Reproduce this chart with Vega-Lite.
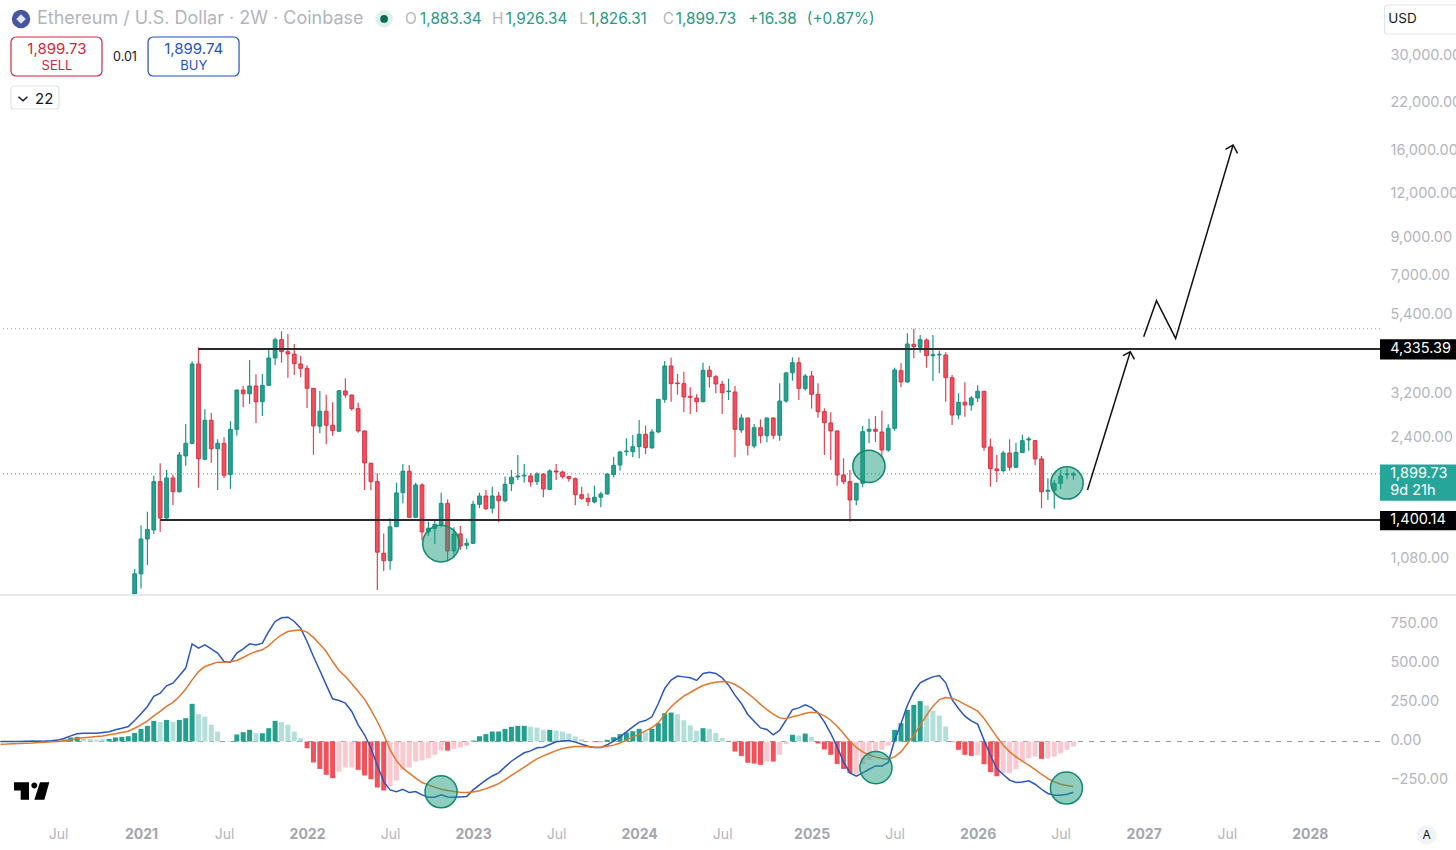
{
  "$schema": "https://vega.github.io/schema/vega-lite/v6.json",
  "width": 1380,
  "height": 820,
  "autosize": {"type": "none"},
  "padding": {"left": 0, "top": 0, "right": 76, "bottom": 30},
  "background": "white",
  "config": {
    "view": {"stroke": null},
    "text": {"font": "Inter"},
    "axis": {"labelFont": "Inter", "grid": false, "domain": false, "ticks": false}
  },
  "resolve": {"scale": {"y": "independent"}, "axis": {"y": "independent"}},
  "datasets": {
    "candles": [
      {"bar":12,"open":800,"high":1012,"low":760,"close":981},
      {"bar":13,"open":981,"high":1353,"low":890,"close":1235},
      {"bar":14,"open":1235,"high":1479,"low":1040,"close":1314},
      {"bar":15,"open":1311,"high":1877,"low":1277,"close":1804},
      {"bar":16,"open":1804,"high":2037,"low":1294,"close":1419},
      {"bar":17,"open":1419,"high":1949,"low":1410,"close":1849},
      {"bar":18,"open":1849,"high":1890,"low":1546,"close":1688},
      {"bar":19,"open":1688,"high":2195,"low":1680,"close":2152},
      {"bar":20,"open":2138,"high":2641,"low":2005,"close":2324},
      {"bar":21,"open":2324,"high":3997,"low":2310,"close":3926},
      {"bar":22,"open":3926,"high":4384,"low":1734,"close":2100},
      {"bar":23,"open":2092,"high":2910,"low":2078,"close":2706},
      {"bar":24,"open":2706,"high":2846,"low":2041,"close":2243},
      {"bar":25,"open":2243,"high":2387,"low":1707,"close":2324},
      {"bar":26,"open":2324,"high":2419,"low":1849,"close":1882},
      {"bar":27,"open":1890,"high":2694,"low":1719,"close":2550},
      {"bar":28,"open":2550,"high":3313,"low":2445,"close":3306},
      {"bar":29,"open":3306,"high":3395,"low":2949,"close":3226},
      {"bar":30,"open":3226,"high":4031,"low":3014,"close":3395},
      {"bar":31,"open":3395,"high":3668,"low":2659,"close":3060},
      {"bar":32,"open":3060,"high":3675,"low":2784,"close":3410},
      {"bar":33,"open":3410,"high":4355,"low":3395,"close":4085},
      {"bar":34,"open":4085,"high":4670,"low":3900,"close":4610},
      {"bar":35,"open":4610,"high":4875,"low":3960,"close":4258},
      {"bar":36,"open":4258,"high":4787,"low":3586,"close":4195},
      {"bar":37,"open":4195,"high":4481,"low":3651,"close":3934},
      {"bar":38,"open":3926,"high":4148,"low":3596,"close":3816},
      {"bar":39,"open":3816,"high":3892,"low":2935,"close":3343},
      {"bar":40,"open":3343,"high":3343,"low":2156,"close":2607},
      {"bar":41,"open":2602,"high":3284,"low":2484,"close":2872},
      {"bar":42,"open":2872,"high":3205,"low":2310,"close":2619},
      {"bar":43,"open":2619,"high":3048,"low":2445,"close":2527},
      {"bar":44,"open":2517,"high":3306,"low":2510,"close":3290},
      {"bar":45,"open":3284,"high":3572,"low":3142,"close":3199},
      {"bar":46,"open":3199,"high":3205,"low":2884,"close":2922},
      {"bar":47,"open":2922,"high":3040,"low":2494,"close":2522},
      {"bar":48,"open":2522,"high":2530,"low":1707,"close":2041},
      {"bar":49,"open":2037,"high":2045,"low":1704,"close":1804},
      {"bar":50,"open":1804,"high":1907,"low":882,"close":1132},
      {"bar":51,"open":1124,"high":1280,"low":1000,"close":1070},
      {"bar":52,"open":1070,"high":1416,"low":1007,"close":1338},
      {"bar":53,"open":1340,"high":1792,"low":1335,"close":1674},
      {"bar":54,"open":1677,"high":2028,"low":1563,"close":1932},
      {"bar":55,"open":1932,"high":2014,"low":1420,"close":1425},
      {"bar":56,"open":1425,"high":1792,"low":1420,"close":1765},
      {"bar":57,"open":1765,"high":1784,"low":1227,"close":1294},
      {"bar":58,"open":1294,"high":1385,"low":1260,"close":1326},
      {"bar":59,"open":1323,"high":1400,"low":1195,"close":1361},
      {"bar":60,"open":1361,"high":1677,"low":1335,"close":1563},
      {"bar":61,"open":1563,"high":1605,"low":1075,"close":1141},
      {"bar":62,"open":1141,"high":1335,"low":1088,"close":1277},
      {"bar":63,"open":1277,"high":1346,"low":1149,"close":1180},
      {"bar":64,"open":1185,"high":1238,"low":1154,"close":1200},
      {"bar":65,"open":1200,"high":1590,"low":1195,"close":1553},
      {"bar":66,"open":1553,"high":1677,"low":1513,"close":1641},
      {"bar":67,"open":1641,"high":1707,"low":1496,"close":1509},
      {"bar":68,"open":1513,"high":1745,"low":1464,"close":1641},
      {"bar":69,"open":1641,"high":1688,"low":1379,"close":1590},
      {"bar":70,"open":1590,"high":1865,"low":1574,"close":1773},
      {"bar":71,"open":1780,"high":1949,"low":1696,"close":1857},
      {"bar":72,"open":1861,"high":2152,"low":1824,"close":1873},
      {"bar":73,"open":1873,"high":2028,"low":1792,"close":1882},
      {"bar":74,"open":1873,"high":1907,"low":1745,"close":1800},
      {"bar":75,"open":1804,"high":1919,"low":1765,"close":1898},
      {"bar":76,"open":1898,"high":1907,"low":1627,"close":1719},
      {"bar":77,"open":1715,"high":1958,"low":1707,"close":1936},
      {"bar":78,"open":1936,"high":2028,"low":1824,"close":1923},
      {"bar":79,"open":1923,"high":1940,"low":1840,"close":1865},
      {"bar":80,"open":1865,"high":1877,"low":1804,"close":1840},
      {"bar":81,"open":1840,"high":1853,"low":1543,"close":1655},
      {"bar":82,"open":1655,"high":1745,"low":1598,"close":1616},
      {"bar":83,"open":1616,"high":1671,"low":1536,"close":1580},
      {"bar":84,"open":1577,"high":1757,"low":1563,"close":1627},
      {"bar":85,"open":1627,"high":1688,"low":1523,"close":1663},
      {"bar":86,"open":1663,"high":1907,"low":1655,"close":1898},
      {"bar":87,"open":1890,"high":2128,"low":1857,"close":2010},
      {"bar":88,"open":2014,"high":2214,"low":1940,"close":2195},
      {"bar":89,"open":2200,"high":2403,"low":2142,"close":2209},
      {"bar":90,"open":2200,"high":2456,"low":2120,"close":2273},
      {"bar":91,"open":2273,"high":2712,"low":2106,"close":2467},
      {"bar":92,"open":2467,"high":2612,"low":2166,"close":2258},
      {"bar":93,"open":2254,"high":2550,"low":2245,"close":2505},
      {"bar":94,"open":2505,"high":3112,"low":2484,"close":3109},
      {"bar":95,"open":3109,"high":4005,"low":3040,"close":3874},
      {"bar":96,"open":3874,"high":4094,"low":3060,"close":3447},
      {"bar":97,"open":3463,"high":3675,"low":3205,"close":3447},
      {"bar":98,"open":3447,"high":3732,"low":2853,"close":3157},
      {"bar":99,"open":3172,"high":3365,"low":2821,"close":3150},
      {"bar":100,"open":3136,"high":3214,"low":2859,"close":3060},
      {"bar":101,"open":3060,"high":3960,"low":3050,"close":3766},
      {"bar":102,"open":3766,"high":3874,"low":3356,"close":3610},
      {"bar":103,"open":3610,"high":3651,"low":3235,"close":3440},
      {"bar":104,"open":3433,"high":3516,"low":2821,"close":3247},
      {"bar":105,"open":3270,"high":3563,"low":3095,"close":3284},
      {"bar":106,"open":3263,"high":3395,"low":2120,"close":2550},
      {"bar":107,"open":2538,"high":2815,"low":2494,"close":2748},
      {"bar":108,"open":2748,"high":2753,"low":2148,"close":2294},
      {"bar":109,"open":2284,"high":2641,"low":2250,"close":2577},
      {"bar":110,"open":2577,"high":2724,"low":2324,"close":2445},
      {"bar":111,"open":2445,"high":2750,"low":2340,"close":2748},
      {"bar":112,"open":2748,"high":2760,"low":2387,"close":2451},
      {"bar":113,"open":2451,"high":3456,"low":2365,"close":3074},
      {"bar":114,"open":3074,"high":3732,"low":3040,"close":3700},
      {"bar":115,"open":3707,"high":4104,"low":3516,"close":3960},
      {"bar":116,"open":3960,"high":4104,"low":3095,"close":3343},
      {"bar":117,"open":3335,"high":3675,"low":3290,"close":3627},
      {"bar":118,"open":3627,"high":3749,"low":2922,"close":3214},
      {"bar":119,"open":3214,"high":3456,"low":2753,"close":2865},
      {"bar":120,"open":2865,"high":2929,"low":2152,"close":2664},
      {"bar":121,"open":2659,"high":2853,"low":2082,"close":2522},
      {"bar":122,"open":2522,"high":2525,"low":1757,"close":1886},
      {"bar":123,"open":1886,"high":2106,"low":1773,"close":1804},
      {"bar":124,"open":1804,"high":1949,"low":1385,"close":1598},
      {"bar":125,"open":1598,"high":1792,"low":1543,"close":1784},
      {"bar":126,"open":1784,"high":2607,"low":1738,"close":2510},
      {"bar":127,"open":2517,"high":2735,"low":2324,"close":2550},
      {"bar":128,"open":2550,"high":2784,"low":2345,"close":2517},
      {"bar":129,"open":2505,"high":2884,"low":2128,"close":2224},
      {"bar":130,"open":2224,"high":2636,"low":2195,"close":2567},
      {"bar":131,"open":2567,"high":3831,"low":2527,"close":3774},
      {"bar":132,"open":3757,"high":3944,"low":3365,"close":3486},
      {"bar":133,"open":3486,"high":4808,"low":3470,"close":4481},
      {"bar":134,"open":4472,"high":4957,"low":4077,"close":4402},
      {"bar":135,"open":4384,"high":4755,"low":4230,"close":4610},
      {"bar":136,"open":4601,"high":4652,"low":3831,"close":4148},
      {"bar":137,"open":4148,"high":4755,"low":3509,"close":4176},
      {"bar":138,"open":4167,"high":4287,"low":3692,"close":4186},
      {"bar":139,"open":4167,"high":4242,"low":3060,"close":3586},
      {"bar":140,"open":3586,"high":3651,"low":2624,"close":2803},
      {"bar":141,"open":2803,"high":3235,"low":2724,"close":3048},
      {"bar":142,"open":3048,"high":3479,"low":2772,"close":2994},
      {"bar":143,"open":2994,"high":3178,"low":2884,"close":3136},
      {"bar":144,"open":3136,"high":3410,"low":3054,"close":3278},
      {"bar":145,"open":3278,"high":3285,"low":2214,"close":2265},
      {"bar":146,"open":2269,"high":2397,"low":1745,"close":1966},
      {"bar":147,"open":1962,"high":2152,"low":1800,"close":1940},
      {"bar":148,"open":1940,"high":2214,"low":1915,"close":2180},
      {"bar":149,"open":2180,"high":2387,"low":1940,"close":1984},
      {"bar":150,"open":1984,"high":2334,"low":1975,"close":2190},
      {"bar":151,"open":2185,"high":2460,"low":2180,"close":2365},
      {"bar":152,"open":2376,"high":2429,"low":2214,"close":2392},
      {"bar":153,"open":2365,"high":2376,"low":2010,"close":2096},
      {"bar":154,"open":2096,"high":2138,"low":1513,"close":1688},
      {"bar":155,"open":1693,"high":1845,"low":1598,"close":1704},
      {"bar":156,"open":1700,"high":1824,"low":1509,"close":1784},
      {"bar":157,"open":1784,"high":1949,"low":1715,"close":1873},
      {"bar":158,"open":1890,"high":1971,"low":1833,"close":1902},
      {"bar":159,"open":1883.34,"high":1926.34,"low":1826.31,"close":1899.73}
    ],
    "macd": [
      {"bar":-9,"macd":0,"signal":-17,"hist":0,"phase":"rise"},
      {"bar":-8,"macd":0,"signal":-16,"hist":0,"phase":"rise"},
      {"bar":-7,"macd":0,"signal":-14,"hist":0,"phase":"rise"},
      {"bar":-6,"macd":0,"signal":-13,"hist":0,"phase":"rise"},
      {"bar":-5,"macd":1,"signal":-11,"hist":2,"phase":"rise"},
      {"bar":-4,"macd":1,"signal":-9,"hist":6,"phase":"rise"},
      {"bar":-3,"macd":2,"signal":-6,"hist":6,"phase":"rise"},
      {"bar":-2,"macd":3,"signal":-4,"hist":4,"phase":"rise"},
      {"bar":-1,"macd":5,"signal":-2,"hist":4,"phase":"rise"},
      {"bar":0,"macd":9,"signal":0,"hist":4,"phase":"fade"},
      {"bar":1,"macd":21,"signal":5,"hist":13,"phase":"rise"},
      {"bar":2,"macd":36,"signal":11,"hist":26,"phase":"rise"},
      {"bar":3,"macd":49,"signal":19,"hist":30,"phase":"rise"},
      {"bar":4,"macd":53,"signal":24,"hist":17,"phase":"fade"},
      {"bar":5,"macd":53,"signal":28,"hist":17,"phase":"fade"},
      {"bar":6,"macd":53,"signal":32,"hist":13,"phase":"fade"},
      {"bar":7,"macd":58,"signal":36,"hist":17,"phase":"fade"},
      {"bar":8,"macd":62,"signal":43,"hist":17,"phase":"rise"},
      {"bar":9,"macd":75,"signal":49,"hist":26,"phase":"rise"},
      {"bar":10,"macd":85,"signal":58,"hist":30,"phase":"rise"},
      {"bar":11,"macd":96,"signal":66,"hist":34,"phase":"rise"},
      {"bar":12,"macd":134,"signal":85,"hist":55,"phase":"rise"},
      {"bar":13,"macd":177,"signal":106,"hist":81,"phase":"rise"},
      {"bar":14,"macd":224,"signal":132,"hist":100,"phase":"rise"},
      {"bar":15,"macd":288,"signal":164,"hist":132,"phase":"rise"},
      {"bar":16,"macd":309,"signal":192,"hist":124,"phase":"fade"},
      {"bar":17,"macd":356,"signal":224,"hist":138,"phase":"rise"},
      {"bar":18,"macd":373,"signal":250,"hist":126,"phase":"fade"},
      {"bar":19,"macd":420,"signal":288,"hist":138,"phase":"rise"},
      {"bar":20,"macd":469,"signal":335,"hist":149,"phase":"rise"},
      {"bar":21,"macd":624,"signal":394,"hist":241,"phase":"rise"},
      {"bar":22,"macd":597,"signal":447,"hist":175,"phase":"fade"},
      {"bar":23,"macd":618,"signal":479,"hist":158,"phase":"fade"},
      {"bar":24,"macd":592,"signal":494,"hist":107,"phase":"fade"},
      {"bar":25,"macd":565,"signal":507,"hist":64,"phase":"fade"},
      {"bar":26,"macd":511,"signal":507,"hist":1,"phase":"fade"},
      {"bar":27,"macd":507,"signal":509,"hist":2,"phase":"rise"},
      {"bar":28,"macd":565,"signal":518,"hist":45,"phase":"rise"},
      {"bar":29,"macd":592,"signal":537,"hist":60,"phase":"rise"},
      {"bar":30,"macd":624,"signal":558,"hist":75,"phase":"rise"},
      {"bar":31,"macd":616,"signal":575,"hist":53,"phase":"fade"},
      {"bar":32,"macd":628,"signal":586,"hist":53,"phase":"rise"},
      {"bar":33,"macd":703,"signal":613,"hist":85,"phase":"rise"},
      {"bar":34,"macd":767,"signal":650,"hist":132,"phase":"rise"},
      {"bar":35,"macd":790,"signal":682,"hist":124,"phase":"fade"},
      {"bar":36,"macd":794,"signal":703,"hist":107,"phase":"fade"},
      {"bar":37,"macd":767,"signal":709,"hist":64,"phase":"fade"},
      {"bar":38,"macd":724,"signal":712,"hist":21,"phase":"fade"},
      {"bar":39,"macd":639,"signal":699,"hist":-43,"phase":"fall"},
      {"bar":40,"macd":543,"signal":665,"hist":-134,"phase":"fall"},
      {"bar":41,"macd":454,"signal":622,"hist":-175,"phase":"fall"},
      {"bar":42,"macd":362,"signal":575,"hist":-213,"phase":"fall"},
      {"bar":43,"macd":273,"signal":511,"hist":-234,"phase":"fall"},
      {"bar":44,"macd":262,"signal":454,"hist":-192,"phase":"ease"},
      {"bar":45,"macd":245,"signal":415,"hist":-166,"phase":"ease"},
      {"bar":46,"macd":192,"signal":369,"hist":-166,"phase":"ease"},
      {"bar":47,"macd":106,"signal":320,"hist":-181,"phase":"fall"},
      {"bar":48,"macd":43,"signal":271,"hist":-217,"phase":"fall"},
      {"bar":49,"macd":-43,"signal":202,"hist":-241,"phase":"fall"},
      {"bar":50,"macd":-153,"signal":128,"hist":-294,"phase":"fall"},
      {"bar":51,"macd":-256,"signal":43,"hist":-313,"phase":"fall"},
      {"bar":52,"macd":-309,"signal":-53,"hist":-288,"phase":"ease"},
      {"bar":53,"macd":-320,"signal":-124,"hist":-249,"phase":"ease"},
      {"bar":54,"macd":-305,"signal":-171,"hist":-181,"phase":"ease"},
      {"bar":55,"macd":-326,"signal":-202,"hist":-166,"phase":"ease"},
      {"bar":56,"macd":-320,"signal":-234,"hist":-128,"phase":"ease"},
      {"bar":57,"macd":-341,"signal":-262,"hist":-121,"phase":"ease"},
      {"bar":58,"macd":-356,"signal":-277,"hist":-107,"phase":"ease"},
      {"bar":59,"macd":-356,"signal":-292,"hist":-85,"phase":"ease"},
      {"bar":60,"macd":-341,"signal":-305,"hist":-58,"phase":"ease"},
      {"bar":61,"macd":-354,"signal":-313,"hist":-58,"phase":"fall"},
      {"bar":62,"macd":-356,"signal":-320,"hist":-47,"phase":"ease"},
      {"bar":63,"macd":-354,"signal":-324,"hist":-38,"phase":"ease"},
      {"bar":64,"macd":-352,"signal":-326,"hist":-26,"phase":"ease"},
      {"bar":65,"macd":-309,"signal":-322,"hist":6,"phase":"rise"},
      {"bar":66,"macd":-277,"signal":-315,"hist":34,"phase":"rise"},
      {"bar":67,"macd":-247,"signal":-301,"hist":47,"phase":"rise"},
      {"bar":68,"macd":-220,"signal":-286,"hist":64,"phase":"rise"},
      {"bar":69,"macd":-200,"signal":-269,"hist":64,"phase":"rise"},
      {"bar":70,"macd":-162,"signal":-243,"hist":81,"phase":"rise"},
      {"bar":71,"macd":-126,"signal":-217,"hist":94,"phase":"rise"},
      {"bar":72,"macd":-98,"signal":-190,"hist":100,"phase":"rise"},
      {"bar":73,"macd":-72,"signal":-164,"hist":100,"phase":"rise"},
      {"bar":74,"macd":-60,"signal":-136,"hist":94,"phase":"fade"},
      {"bar":75,"macd":-40,"signal":-111,"hist":89,"phase":"fade"},
      {"bar":76,"macd":-36,"signal":-92,"hist":75,"phase":"fade"},
      {"bar":77,"macd":-19,"signal":-75,"hist":75,"phase":"rise"},
      {"bar":78,"macd":-2,"signal":-58,"hist":70,"phase":"fade"},
      {"bar":79,"macd":4,"signal":-45,"hist":64,"phase":"fade"},
      {"bar":80,"macd":6,"signal":-36,"hist":51,"phase":"fade"},
      {"bar":81,"macd":-4,"signal":-32,"hist":32,"phase":"fade"},
      {"bar":82,"macd":-17,"signal":-32,"hist":15,"phase":"fade"},
      {"bar":83,"macd":-30,"signal":-34,"hist":2,"phase":"fade"},
      {"bar":84,"macd":-38,"signal":-36,"hist":-4,"phase":"fall"},
      {"bar":85,"macd":-38,"signal":-36,"hist":-4,"phase":"fall"},
      {"bar":86,"macd":-21,"signal":-30,"hist":11,"phase":"rise"},
      {"bar":87,"macd":2,"signal":-23,"hist":28,"phase":"rise"},
      {"bar":88,"macd":30,"signal":-9,"hist":47,"phase":"rise"},
      {"bar":89,"macd":62,"signal":9,"hist":58,"phase":"rise"},
      {"bar":90,"macd":94,"signal":30,"hist":66,"phase":"rise"},
      {"bar":91,"macd":124,"signal":47,"hist":81,"phase":"rise"},
      {"bar":92,"macd":134,"signal":68,"hist":60,"phase":"fade"},
      {"bar":93,"macd":158,"signal":89,"hist":81,"phase":"rise"},
      {"bar":94,"macd":243,"signal":119,"hist":117,"phase":"rise"},
      {"bar":95,"macd":339,"signal":175,"hist":181,"phase":"rise"},
      {"bar":96,"macd":392,"signal":222,"hist":185,"phase":"rise"},
      {"bar":97,"macd":418,"signal":258,"hist":175,"phase":"fade"},
      {"bar":98,"macd":413,"signal":290,"hist":136,"phase":"fade"},
      {"bar":99,"macd":407,"signal":313,"hist":104,"phase":"fade"},
      {"bar":100,"macd":390,"signal":337,"hist":70,"phase":"fade"},
      {"bar":101,"macd":435,"signal":358,"hist":85,"phase":"rise"},
      {"bar":102,"macd":443,"signal":371,"hist":81,"phase":"fade"},
      {"bar":103,"macd":435,"signal":379,"hist":55,"phase":"fade"},
      {"bar":104,"macd":407,"signal":383,"hist":23,"phase":"fade"},
      {"bar":105,"macd":360,"signal":381,"hist":0,"phase":"fade"},
      {"bar":106,"macd":296,"signal":364,"hist":-64,"phase":"fall"},
      {"bar":107,"macd":243,"signal":339,"hist":-92,"phase":"fall"},
      {"bar":108,"macd":173,"signal":307,"hist":-136,"phase":"fall"},
      {"bar":109,"macd":130,"signal":275,"hist":-141,"phase":"fall"},
      {"bar":110,"macd":87,"signal":237,"hist":-149,"phase":"fall"},
      {"bar":111,"macd":77,"signal":204,"hist":-128,"phase":"ease"},
      {"bar":112,"macd":43,"signal":175,"hist":-128,"phase":"fall"},
      {"bar":113,"macd":72,"signal":151,"hist":-85,"phase":"ease"},
      {"bar":114,"macd":136,"signal":145,"hist":-15,"phase":"ease"},
      {"bar":115,"macd":204,"signal":158,"hist":43,"phase":"rise"},
      {"bar":116,"macd":215,"signal":168,"hist":38,"phase":"fade"},
      {"bar":117,"macd":234,"signal":181,"hist":51,"phase":"rise"},
      {"bar":118,"macd":217,"signal":187,"hist":30,"phase":"fade"},
      {"bar":119,"macd":183,"signal":183,"hist":-13,"phase":"fall"},
      {"bar":120,"macd":126,"signal":164,"hist":-51,"phase":"fall"},
      {"bar":121,"macd":51,"signal":136,"hist":-85,"phase":"fall"},
      {"bar":122,"macd":-34,"signal":98,"hist":-143,"phase":"fall"},
      {"bar":123,"macd":-130,"signal":51,"hist":-175,"phase":"fall"},
      {"bar":124,"macd":-200,"signal":2,"hist":-202,"phase":"fall"},
      {"bar":125,"macd":-222,"signal":-38,"hist":-207,"phase":"ease"},
      {"bar":126,"macd":-200,"signal":-66,"hist":-145,"phase":"ease"},
      {"bar":127,"macd":-177,"signal":-85,"hist":-117,"phase":"ease"},
      {"bar":128,"macd":-156,"signal":-98,"hist":-64,"phase":"ease"},
      {"bar":129,"macd":-156,"signal":-109,"hist":-53,"phase":"ease"},
      {"bar":130,"macd":-134,"signal":-113,"hist":-26,"phase":"ease"},
      {"bar":131,"macd":9,"signal":-98,"hist":75,"phase":"rise"},
      {"bar":132,"macd":115,"signal":-66,"hist":117,"phase":"rise"},
      {"bar":133,"macd":232,"signal":-13,"hist":202,"phase":"rise"},
      {"bar":134,"macd":318,"signal":40,"hist":234,"phase":"rise"},
      {"bar":135,"macd":375,"signal":105,"hist":258,"phase":"rise"},
      {"bar":136,"macd":396,"signal":168,"hist":230,"phase":"fade"},
      {"bar":137,"macd":413,"signal":226,"hist":196,"phase":"fade"},
      {"bar":138,"macd":422,"signal":268,"hist":166,"phase":"fade"},
      {"bar":139,"macd":375,"signal":281,"hist":96,"phase":"fade"},
      {"bar":140,"macd":268,"signal":277,"hist":-4,"phase":"fall"},
      {"bar":141,"macd":211,"signal":260,"hist":-53,"phase":"fall"},
      {"bar":142,"macd":162,"signal":237,"hist":-85,"phase":"fall"},
      {"bar":143,"macd":132,"signal":217,"hist":-92,"phase":"fall"},
      {"bar":144,"macd":111,"signal":194,"hist":-89,"phase":"ease"},
      {"bar":145,"macd":9,"signal":147,"hist":-145,"phase":"fall"},
      {"bar":146,"macd":-87,"signal":89,"hist":-196,"phase":"fall"},
      {"bar":147,"macd":-173,"signal":30,"hist":-222,"phase":"fall"},
      {"bar":148,"macd":-211,"signal":-23,"hist":-202,"phase":"ease"},
      {"bar":149,"macd":-247,"signal":-66,"hist":-202,"phase":"ease"},
      {"bar":150,"macd":-262,"signal":-98,"hist":-177,"phase":"ease"},
      {"bar":151,"macd":-258,"signal":-126,"hist":-128,"phase":"ease"},
      {"bar":152,"macd":-251,"signal":-151,"hist":-107,"phase":"ease"},
      {"bar":153,"macd":-273,"signal":-179,"hist":-96,"phase":"ease"},
      {"bar":154,"macd":-305,"signal":-209,"hist":-111,"phase":"fall"},
      {"bar":155,"macd":-332,"signal":-237,"hist":-107,"phase":"ease"},
      {"bar":156,"macd":-343,"signal":-258,"hist":-96,"phase":"ease"},
      {"bar":157,"macd":-343,"signal":-273,"hist":-75,"phase":"ease"},
      {"bar":158,"macd":-337,"signal":-281,"hist":-53,"phase":"ease"},
      {"bar":159,"macd":-324,"signal":-288,"hist":-32,"phase":"ease"}
    ]
  },
  "layer": [
    {
      "resolve": {"scale": {"color": "independent", "stroke": "independent", "fill": "independent"}},
      "layer": [
        {
          "data": {"values": [{"price": 4957, "kind": "high"}, {"price": 1899.73, "kind": "last"}]},
          "mark": {"type": "rule", "strokeWidth": 1, "strokeDash": [1, 3]},
          "encoding": {
            "y": {
              "field": "price",
              "type": "quantitative",
              "scale": {"type": "log", "domain": [858.5, 43530], "range": [594, 0], "clamp": true, "nice": false},
              "axis": {
                "title": null,
                "orient": "right",
                "values": [30000, 22000, 16000, 12000, 9000, 7000, 5400, 3200, 2400, 1080],
                "format": ",.2f",
                "labelColor": "#b2b5be",
                "labelFontSize": 14.5,
                "labelOffset": -1,
                "labelPadding": 10,
                "labelLimit": 200,
                "labelOverlap": false
              }
            },
            "color": {"field": "kind", "type": "nominal", "legend": null, "scale": {"domain": ["high", "last"], "range": ["#9aa0a6", "#26a69a"]}}
          }
        },
        {
          "data": {"name": "candles"},
          "mark": {"type": "rule", "strokeWidth": 1.2},
          "encoding": {
            "x": {
              "field": "bar",
              "type": "quantitative",
              "scale": {"domain": [-9.08, 207], "nice": false, "zero": false, "padding": 0},
              "axis": {
                "title": null,
                "orient": "bottom",
                "values": [0, 13, 26, 39, 52, 65, 78, 91, 104, 118, 131, 144, 157, 170, 183, 196],
                "labelExpr": "{'13':'2021','39':'2022','65':'2023','91':'2024','118':'2025','144':'2026','170':'2027','196':'2028'}[datum.value] || 'Jul'",
                "labelColor": {"condition": {"test": "indexof([13,39,65,91,118,144,170,196],datum.value)>=0", "value": "#a3a6af"}, "value": "#b2b5be"},
                "labelFontWeight": {"condition": {"test": "indexof([13,39,65,91,118,144,170,196],datum.value)>=0", "value": "bold"}, "value": "normal"},
                "labelFontSize": 14,
                "labelPadding": 7,
                "labelOverlap": false
              }
            },
            "y": {"field": "low", "type": "quantitative"},
            "y2": {"field": "high"},
            "color": {"condition": {"test": "datum.close>=datum.open", "value": "#159a88"}, "value": "#e8404f"}
          }
        },
        {
          "data": {"name": "candles"},
          "mark": {"type": "bar", "size": 3.8, "strokeWidth": 0.9},
          "encoding": {
            "x": {"field": "bar", "type": "quantitative"},
            "y": {"field": "open", "type": "quantitative"},
            "y2": {"field": "close"},
            "fill": {"condition": {"test": "datum.close>=datum.open", "value": "#26a190"}, "value": "#f0505c"},
            "stroke": {"condition": {"test": "datum.close>=datum.open", "value": "#0f8a78"}, "value": "#d8283c"}
          }
        },
        {
          "data": {"values": [{"bar": 22, "bar2": 207, "price": 4335.39}, {"bar": 16, "bar2": 207, "price": 1400.14}]},
          "mark": {"type": "rule", "strokeWidth": 2, "color": "#2b2b2e"},
          "encoding": {
            "x": {"field": "bar", "type": "quantitative"},
            "x2": {"field": "bar2"},
            "y": {"field": "price", "type": "quantitative"}
          }
        },
        {
          "data": {"values": [{"bar": 59.98, "price": 1198}]},
          "mark": {"type": "point", "shape": "circle", "size": 1346, "filled": true, "fill": "#1f9e7f", "fillOpacity": 0.5, "stroke": "#0f8a6f", "strokeWidth": 1.5},
          "encoding": {
            "x": {"field": "bar", "type": "quantitative"},
            "y": {"field": "price", "type": "quantitative"}
          }
        },
        {
          "data": {"values": [{"bar": 126.97, "price": 1997}, {"bar": 158, "price": 1788}]},
          "mark": {"type": "point", "shape": "circle", "size": 1040, "filled": true, "fill": "#1f9e7f", "fillOpacity": 0.5, "stroke": "#0f8a6f", "strokeWidth": 1.5},
          "encoding": {
            "x": {"field": "bar", "type": "quantitative"},
            "y": {"field": "price", "type": "quantitative"}
          }
        },
        {
          "data": {"values": [
            {"path": "a", "seq": 1, "bar": 161.2, "price": 1707},
            {"path": "a", "seq": 2, "bar": 167.9, "price": 4257},
            {"path": "ah", "seq": 1, "bar": 166.75, "price": 4148},
            {"path": "ah", "seq": 2, "bar": 167.9, "price": 4257},
            {"path": "ah", "seq": 3, "bar": 168.55, "price": 4050},
            {"path": "b", "seq": 1, "bar": 170, "price": 4700},
            {"path": "b", "seq": 2, "bar": 172, "price": 5966},
            {"path": "b", "seq": 3, "bar": 175, "price": 4650},
            {"path": "b", "seq": 4, "bar": 184, "price": 16693},
            {"path": "bh", "seq": 1, "bar": 182.8, "price": 16228},
            {"path": "bh", "seq": 2, "bar": 184, "price": 16693},
            {"path": "bh", "seq": 3, "bar": 184.7, "price": 15805}
          ]},
          "mark": {"type": "line", "color": "#111111", "strokeWidth": 1.5},
          "encoding": {
            "x": {"field": "bar", "type": "quantitative"},
            "y": {"field": "price", "type": "quantitative"},
            "detail": {"field": "path"},
            "order": {"field": "seq"}
          }
        },
        {
          "data": {"values": [
            {"bar": 207, "bar2": 218.95, "price": 4620, "price2": 4045, "kind": "level"},
            {"bar": 207, "bar2": 218.95, "price": 1486, "price2": 1308, "kind": "level"},
            {"bar": 207, "bar2": 218.95, "price": 2021, "price2": 1590, "kind": "last"}
          ]},
          "mark": {"type": "rect"},
          "encoding": {
            "x": {"field": "bar", "type": "quantitative"},
            "x2": {"field": "bar2"},
            "y": {"field": "price", "type": "quantitative"},
            "y2": {"field": "price2"},
            "color": {"field": "kind", "type": "nominal", "legend": null, "scale": {"domain": ["level", "last"], "range": ["#000000", "#26a69a"]}}
          }
        },
        {
          "data": {"values": [
            {"bar": 208.6, "price": 4335.39, "label": "4,335.39"},
            {"bar": 208.6, "price": 1400.14, "label": "1,400.14"},
            {"bar": 208.6, "price": 1899.73, "label": "1,899.73"},
            {"bar": 208.6, "price": 1696, "label": "9d 21h"}
          ]},
          "mark": {"type": "text", "align": "left", "baseline": "middle", "fontSize": 14.5, "color": "#ffffff"},
          "encoding": {
            "x": {"field": "bar", "type": "quantitative"},
            "y": {"field": "price", "type": "quantitative"},
            "text": {"field": "label"}
          }
        },
        {
          "data": {"values": [
            {"bar": -7.36, "bar2": 6.89, "price": 34085, "price2": 26343, "kind": "sell"},
            {"bar": 14.1, "bar2": 28.35, "price": 34085, "price2": 26343, "kind": "buy"}
          ]},
          "mark": {"type": "rect", "cornerRadius": 5, "fill": "#ffffff", "strokeWidth": 1.2},
          "encoding": {
            "x": {"field": "bar", "type": "quantitative"},
            "x2": {"field": "bar2"},
            "y": {"field": "price", "type": "quantitative"},
            "y2": {"field": "price2"},
            "stroke": {"field": "kind", "type": "nominal", "legend": null, "scale": {"domain": ["sell", "buy"], "range": ["#d4263c", "#1f51c4"]}}
          }
        },
        {
          "data": {"values": [
            {"bar": -7.36, "bar2": 0.16, "price": 24660, "price2": 21176},
            {"bar": 207.7, "bar2": 219.5, "price": 42115, "price2": 34770}
          ]},
          "mark": {"type": "rect", "cornerRadius": 3, "fill": "#ffffff", "stroke": "#e0e3eb", "strokeWidth": 1.2},
          "encoding": {
            "x": {"field": "bar", "type": "quantitative"},
            "x2": {"field": "bar2"},
            "y": {"field": "price", "type": "quantitative"},
            "y2": {"field": "price2"}
          }
        },
        {
          "data": {"values": [{"bar": -3.29, "price": 38395, "label": "Ethereum / U.S. Dollar · 2W · Coinbase"}]},
          "mark": {"type": "text", "align": "left", "baseline": "middle", "fontSize": 18, "color": "#b2b5be"},
          "encoding": {
            "x": {"field": "bar", "type": "quantitative"},
            "y": {"field": "price", "type": "quantitative"},
            "text": {"field": "label"}
          }
        },
        {
          "data": {"values": [
            {"bar": 54.35, "price": 38395, "label": "O", "kind": "key"},
            {"bar": 56.7, "price": 38395, "label": "1,883.34", "kind": "value"},
            {"bar": 67.97, "price": 38395, "label": "H", "kind": "key"},
            {"bar": 70.1, "price": 38395, "label": "1,926.34", "kind": "value"},
            {"bar": 81.6, "price": 38395, "label": "L", "kind": "key"},
            {"bar": 83.16, "price": 38395, "label": "1,826.31", "kind": "value"},
            {"bar": 94.7, "price": 38395, "label": "C", "kind": "key"},
            {"bar": 96.74, "price": 38395, "label": "1,899.73", "kind": "value"},
            {"bar": 108.1, "price": 38395, "label": "+16.38", "kind": "value"},
            {"bar": 117.26, "price": 38395, "label": "(+0.87%)", "kind": "value"}
          ]},
          "mark": {"type": "text", "align": "left", "baseline": "middle", "fontSize": 15.3},
          "encoding": {
            "x": {"field": "bar", "type": "quantitative"},
            "y": {"field": "price", "type": "quantitative"},
            "text": {"field": "label"},
            "color": {"field": "kind", "type": "nominal", "legend": null, "scale": {"domain": ["key", "value"], "range": ["#b2b5be", "#2a9a84"]}}
          }
        },
        {
          "data": {"values": [
            {"bar": -0.16, "price": 31428, "label": "1,899.73", "kind": "sell"},
            {"bar": 21.25, "price": 31428, "label": "1,899.74", "kind": "buy"},
            {"bar": -2.15, "price": 22665, "label": "22", "kind": "plain"}
          ]},
          "mark": {"type": "text", "align": "center", "baseline": "middle", "fontSize": 15},
          "encoding": {
            "x": {"field": "bar", "type": "quantitative"},
            "y": {"field": "price", "type": "quantitative"},
            "text": {"field": "label"},
            "color": {"field": "kind", "type": "nominal", "legend": null, "scale": {"domain": ["sell", "buy", "plain"], "range": ["#d4263c", "#1f51c4", "#131722"]}}
          }
        },
        {
          "data": {"values": [{"bar": 10.49, "price": 29810, "label": "0.01"}]},
          "mark": {"type": "text", "align": "center", "baseline": "middle", "fontSize": 12.5, "color": "#131722"},
          "encoding": {
            "x": {"field": "bar", "type": "quantitative"},
            "y": {"field": "price", "type": "quantitative"},
            "text": {"field": "label"}
          }
        },
        {
          "data": {"values": [
            {"bar": -0.16, "price": 28199, "label": "SELL", "kind": "sell"},
            {"bar": 21.25, "price": 28199, "label": "BUY", "kind": "buy"}
          ]},
          "mark": {"type": "text", "align": "center", "baseline": "middle", "fontSize": 13},
          "encoding": {
            "x": {"field": "bar", "type": "quantitative"},
            "y": {"field": "price", "type": "quantitative"},
            "text": {"field": "label"},
            "color": {"field": "kind", "type": "nominal", "legend": null, "scale": {"domain": ["sell", "buy"], "range": ["#d4263c", "#1f51c4"]}}
          }
        },
        {
          "data": {"values": [{"bar": 208.3, "price": 38395, "label": "USD"}]},
          "mark": {"type": "text", "align": "left", "baseline": "middle", "fontSize": 13.5, "color": "#131722"},
          "encoding": {
            "x": {"field": "bar", "type": "quantitative"},
            "y": {"field": "price", "type": "quantitative"},
            "text": {"field": "label"}
          }
        },
        {
          "data": {"values": [{"bar": -5.79, "price": 38395}]},
          "mark": {"type": "point", "shape": "circle", "size": 340, "filled": true, "color": "#46559f", "opacity": 1},
          "encoding": {
            "x": {"field": "bar", "type": "quantitative"},
            "y": {"field": "price", "type": "quantitative"}
          }
        },
        {
          "data": {"values": [{"bar": -5.79, "price": 38395}]},
          "mark": {"type": "point", "shape": "diamond", "size": 90, "filled": true, "color": "#dfe5f5", "opacity": 1},
          "encoding": {
            "x": {"field": "bar", "type": "quantitative"},
            "y": {"field": "price", "type": "quantitative"}
          }
        },
        {
          "data": {"values": [{"bar": 51.06, "price": 38395}]},
          "mark": {"type": "point", "shape": "circle", "size": 300, "filled": true, "color": "#dff0ec", "opacity": 1},
          "encoding": {
            "x": {"field": "bar", "type": "quantitative"},
            "y": {"field": "price", "type": "quantitative"}
          }
        },
        {
          "data": {"values": [{"bar": 51.06, "price": 38395}]},
          "mark": {"type": "point", "shape": "circle", "size": 60, "filled": true, "color": "#0b6b55", "opacity": 1},
          "encoding": {
            "x": {"field": "bar", "type": "quantitative"},
            "y": {"field": "price", "type": "quantitative"}
          }
        },
        {
          "data": {"values": [{"bar": -5.48, "price": 22665}]},
          "mark": {"type": "point", "shape": "M-1,-0.45L0,0.45L1,-0.45", "size": 81, "filled": false, "stroke": "#131722", "strokeWidth": 1.5, "opacity": 1},
          "encoding": {
            "x": {"field": "bar", "type": "quantitative"},
            "y": {"field": "price", "type": "quantitative"}
          }
        }
      ]
    },
    {
      "resolve": {"scale": {"color": "independent"}},
      "layer": [
        {
          "data": {"values": [{"bar": -9.08, "bar2": 218.95, "value": 936}]},
          "mark": {"type": "rule", "strokeWidth": 1.5, "color": "#e0e3eb"},
          "encoding": {
            "x": {"field": "bar", "type": "quantitative"},
            "x2": {"field": "bar2"},
            "y": {
              "field": "value",
              "type": "quantitative",
              "scale": {"domain": [-693, 936], "range": [850, 595], "nice": false, "zero": false},
              "axis": {
                "title": null,
                "orient": "right",
                "values": [750, 500, 250, 0, -250],
                "format": ",.2f",
                "labelColor": "#b2b5be",
                "labelFontSize": 14.5,
                "labelOffset": -1,
                "labelPadding": 10,
                "labelLimit": 200,
                "labelOverlap": false
              }
            }
          }
        },
        {
          "data": {"values": [{"bar": -9.08, "bar2": 207, "value": 0}]},
          "mark": {"type": "rule", "strokeWidth": 1, "color": "#9598a1", "strokeDash": [5, 6]},
          "encoding": {
            "x": {"field": "bar", "type": "quantitative"},
            "x2": {"field": "bar2"},
            "y": {"field": "value", "type": "quantitative"}
          }
        },
        {
          "data": {"name": "macd"},
          "mark": {"type": "bar", "size": 5},
          "encoding": {
            "x": {"field": "bar", "type": "quantitative"},
            "y": {"field": "hist", "type": "quantitative"},
            "y2": {"datum": 0},
            "color": {"field": "phase", "type": "nominal", "legend": null, "scale": {"domain": ["rise", "fade", "fall", "ease"], "range": ["#22a08e", "#b2dfd9", "#f4505a", "#fcc8d0"]}}
          }
        },
        {
          "data": {"name": "macd"},
          "mark": {"type": "line", "strokeWidth": 1.5, "color": "#2a56c0"},
          "encoding": {
            "x": {"field": "bar", "type": "quantitative"},
            "y": {"field": "macd", "type": "quantitative"}
          }
        },
        {
          "data": {"name": "macd"},
          "mark": {"type": "line", "strokeWidth": 1.5, "color": "#e2762c"},
          "encoding": {
            "x": {"field": "bar", "type": "quantitative"},
            "y": {"field": "signal", "type": "quantitative"}
          }
        },
        {
          "data": {"values": [{"bar": 59.98, "value": -321}, {"bar": 128.07, "value": -167}, {"bar": 157.9, "value": -297}]},
          "mark": {"type": "point", "shape": "circle", "size": 1030, "filled": true, "fill": "#1f9e7f", "fillOpacity": 0.5, "stroke": "#0f8a6f", "strokeWidth": 1.5},
          "encoding": {
            "x": {"field": "bar", "type": "quantitative"},
            "y": {"field": "value", "type": "quantitative"}
          }
        },
        {
          "data": {"values": [{"bar": -4.12, "value": -316}]},
          "mark": {"type": "point", "shape": "M-1,-0.5L-0.151,-0.5L-0.151,0.5L-0.623,0.5L-0.623,-0.028L-1,-0.028ZM-0.02,-0.31A0.17,0.17 0 1,0 0.32,-0.31A0.17,0.17 0 1,0 -0.02,-0.31ZM0.47,-0.5L1,-0.5L0.717,0.5L0.151,0.5Z", "size": 1248, "filled": true, "color": "#000000", "opacity": 1},
          "encoding": {
            "x": {"field": "bar", "type": "quantitative"},
            "y": {"field": "value", "type": "quantitative"}
          }
        },
        {
          "data": {"values": [{"bar": 214.3, "value": -597}]},
          "mark": {"type": "point", "shape": "circle", "size": 380, "filled": true, "color": "#f0f3fa", "opacity": 1},
          "encoding": {
            "x": {"field": "bar", "type": "quantitative"},
            "y": {"field": "value", "type": "quantitative"}
          }
        },
        {
          "data": {"values": [{"bar": 214.3, "value": -597, "label": "A"}]},
          "mark": {"type": "text", "align": "center", "baseline": "middle", "fontSize": 12, "color": "#131722"},
          "encoding": {
            "x": {"field": "bar", "type": "quantitative"},
            "y": {"field": "value", "type": "quantitative"},
            "text": {"field": "label"}
          }
        }
      ]
    }
  ]
}
